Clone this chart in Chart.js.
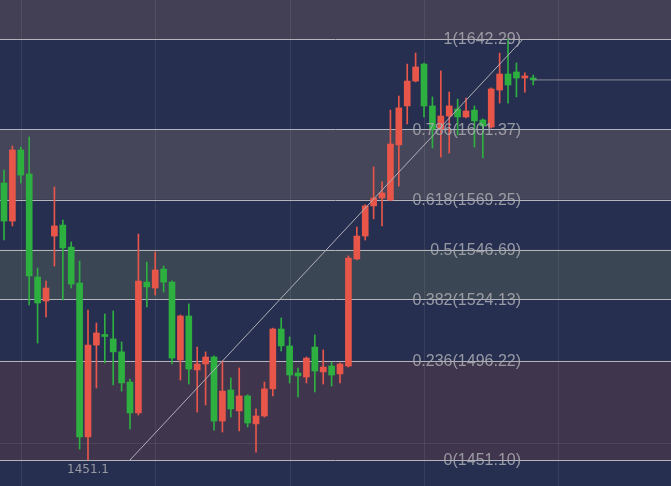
<!DOCTYPE html>
<html><head><meta charset="utf-8">
<script src="https://cdn.jsdelivr.net/npm/chart.js@4/dist/chart.umd.min.js"></script>
<style>html,body{margin:0;padding:0;background:#262f50;overflow:hidden}</style>
</head><body>
<canvas id="c" width="671" height="486"></canvas>
<script>
const opens  = [1576.9,1559.6,1591.9,1581.0,1534.2,1523.3,1552.8,1557.8,1547.8,1531.5,1461.6,1503.3,1507.8,1506.1,1500.2,1486.5,1472.5,1531.9,1529.2,1537.8,1531.9,1496.5,1516.5,1492.0,1494.7,1497.9,1468.8,1482.9,1473.4,1480.2,1467.5,1471.1,1483.4,1510.6,1502.9,1490.6,1488.8,1502.4,1491.1,1493.8,1490.2,1493.8,1542.4,1552.8,1566.5,1570.1,1569.2,1594.2,1611.9,1623.2,1630.9,1611.9,1601.4,1607.3,1610.5,1606.9,1610.0,1605.5,1602.3,1619.1,1626.4,1627.3,1624.6,1624.1];
const highs  = [1582.8,1593.7,1593.2,1597.8,1538.3,1532.4,1575.1,1560.1,1550.1,1541.5,1519.2,1513.3,1517.4,1518.8,1504.7,1487.9,1553.7,1541.0,1545.6,1539.2,1532.5,1517.0,1522.0,1502.4,1500.2,1498.4,1496.1,1488.4,1492.9,1480.7,1474.3,1486.5,1511.0,1515.6,1507.0,1492.9,1497.9,1507.9,1501.1,1495.6,1495.2,1543.8,1556.9,1567.0,1584.2,1577.4,1610.0,1616.4,1630.9,1635.9,1631.4,1616.0,1627.8,1618.2,1615.0,1615.5,1611.9,1606.0,1620.1,1635.9,1642.29,1631.4,1626.9,1625.9];
const lows   = [1551.0,1557.4,1576.9,1521.5,1504.2,1516.1,1539.2,1523.8,1529.2,1456.1,1451.1,1483.8,1495.2,1485.2,1482.4,1465.2,1471.5,1520.6,1526.0,1527.4,1494.7,1487.4,1485.6,1472.9,1476.1,1464.7,1463.8,1470.6,1464.3,1466.1,1454.7,1470.6,1480.2,1500.6,1486.1,1479.7,1486.1,1482.0,1485.6,1484.7,1486.1,1493.3,1542.0,1551.0,1560.6,1557.4,1568.8,1575.5,1603.7,1622.8,1606.9,1592.8,1588.7,1590.5,1598.7,1606.4,1593.2,1588.3,1601.8,1613.2,1613.2,1616.0,1618.2,1621.4];
const closes = [1559.6,1591.9,1580.5,1534.7,1522.4,1529.2,1557.4,1547.4,1531.0,1461.6,1503.3,1508.8,1507.2,1500.2,1486.1,1472.5,1532.4,1529.7,1537.4,1531.9,1497.4,1516.5,1492.4,1494.7,1497.9,1468.8,1482.4,1474.3,1480.2,1467.9,1471.1,1483.4,1510.6,1502.9,1489.7,1489.3,1497.4,1491.5,1493.3,1489.7,1494.7,1542.8,1552.8,1566.5,1570.1,1572.4,1594.6,1611.0,1623.2,1629.6,1611.9,1601.4,1607.3,1611.9,1606.9,1609.6,1605.1,1602.8,1619.6,1626.4,1621.4,1624.6,1625.0,1623.7];
const fibRatios = ['1','0.786','0.618','0.5','0.382','0.236','0'];
const fibValues = [1642.29,1601.37,1569.25,1546.69,1524.13,1496.22,1451.10];
const bandColors = ['#433f55','#262f50','#454659','#262f50','#3b4654','#262f50','#3f364d','#262f50'];
const trendStart = [15.0,1451.1];
const trendEnd = [61.8,1642.29];
const lowLabel = '1451.1';
const lastPrice = 1623.7;

const UP='#e8564a', DOWN='#2db040';
const idx = opens.map((_,i)=>i);
const col = idx.map(i=>closes[i]>=opens[i]?UP:DOWN);
const wick = idx.map(i=>({x:i,y:[lows[i],highs[i]]}));
const body = idx.map(i=>({x:i,y:[Math.min(opens[i],closes[i]),Math.max(opens[i],closes[i])]}));

const bg = {id:'bg',beforeDraw(ch){
  const {ctx,chartArea:a,scales:{x,y}}=ch;
  const edges=[y.max,...fibValues,y.min];
  for(let i=0;i<edges.length-1;i++){
    const t=y.getPixelForValue(edges[i]),b=y.getPixelForValue(edges[i+1]);
    ctx.fillStyle=bandColors[i];ctx.fillRect(a.left,t,a.right-a.left,b-t);
  }
  ctx.strokeStyle='rgba(255,255,255,0.08)';ctx.lineWidth=1;
  [2,18,34,50,66].forEach(v=>{const px=Math.round(x.getPixelForValue(v))+0.5;ctx.beginPath();ctx.moveTo(px,a.top);ctx.lineTo(px,a.bottom);ctx.stroke();});
  const hy=Math.round(y.getPixelForValue(1458.8))+0.5;ctx.beginPath();ctx.moveTo(a.left,hy);ctx.lineTo(a.right,hy);ctx.stroke();
  ctx.strokeStyle='#b4b4bc';
  fibValues.forEach(v=>{const py=Math.round(y.getPixelForValue(v))+0.5;ctx.beginPath();ctx.moveTo(a.left,py);ctx.lineTo(a.right,py);ctx.stroke();});
}, afterDraw(ch){
  const {ctx,scales:{x,y}}=ch;
  ctx.font='16px "Liberation Sans"';ctx.textAlign='right';ctx.textBaseline='middle';ctx.fillStyle='rgba(170,170,178,0.85)';
  fibValues.forEach((v,i)=>ctx.fillText(fibRatios[i]+'('+v.toFixed(2)+')',521,y.getPixelForValue(v)+1));
  ctx.font='12px "DejaVu Sans"';ctx.textAlign='center';ctx.fillStyle='#9a9aa4';
  ctx.fillText(lowLabel,x.getPixelForValue(10),y.getPixelForValue(1451.1)+10);
}};

new Chart(document.getElementById('c'),{
  data:{datasets:[
    {type:'line',data:[{x:trendStart[0],y:trendStart[1]},{x:trendEnd[0],y:trendEnd[1]}],borderColor:'#b0b0b8',borderWidth:1,pointRadius:0,order:0},
    {type:'line',data:[{x:63,y:lastPrice},{x:80,y:lastPrice}],borderColor:'#8a8a94',borderWidth:1,pointRadius:0,order:0},
    {type:'bar',data:wick,backgroundColor:col,barThickness:1,grouped:false,order:2},
    {type:'bar',data:body,backgroundColor:col,barThickness:6,minBarLength:2,grouped:false,order:1}
  ]},
  options:{responsive:false,animation:false,events:[],
    layout:{padding:0},
    plugins:{legend:{display:false},tooltip:{enabled:false}},
    scales:{
      x:{type:'linear',min:-0.476,max:79.4,display:false,offset:false},
      y:{min:1439.3,max:1660.0,display:false}
    }},
  plugins:[bg]
});
</script>
</body></html>
